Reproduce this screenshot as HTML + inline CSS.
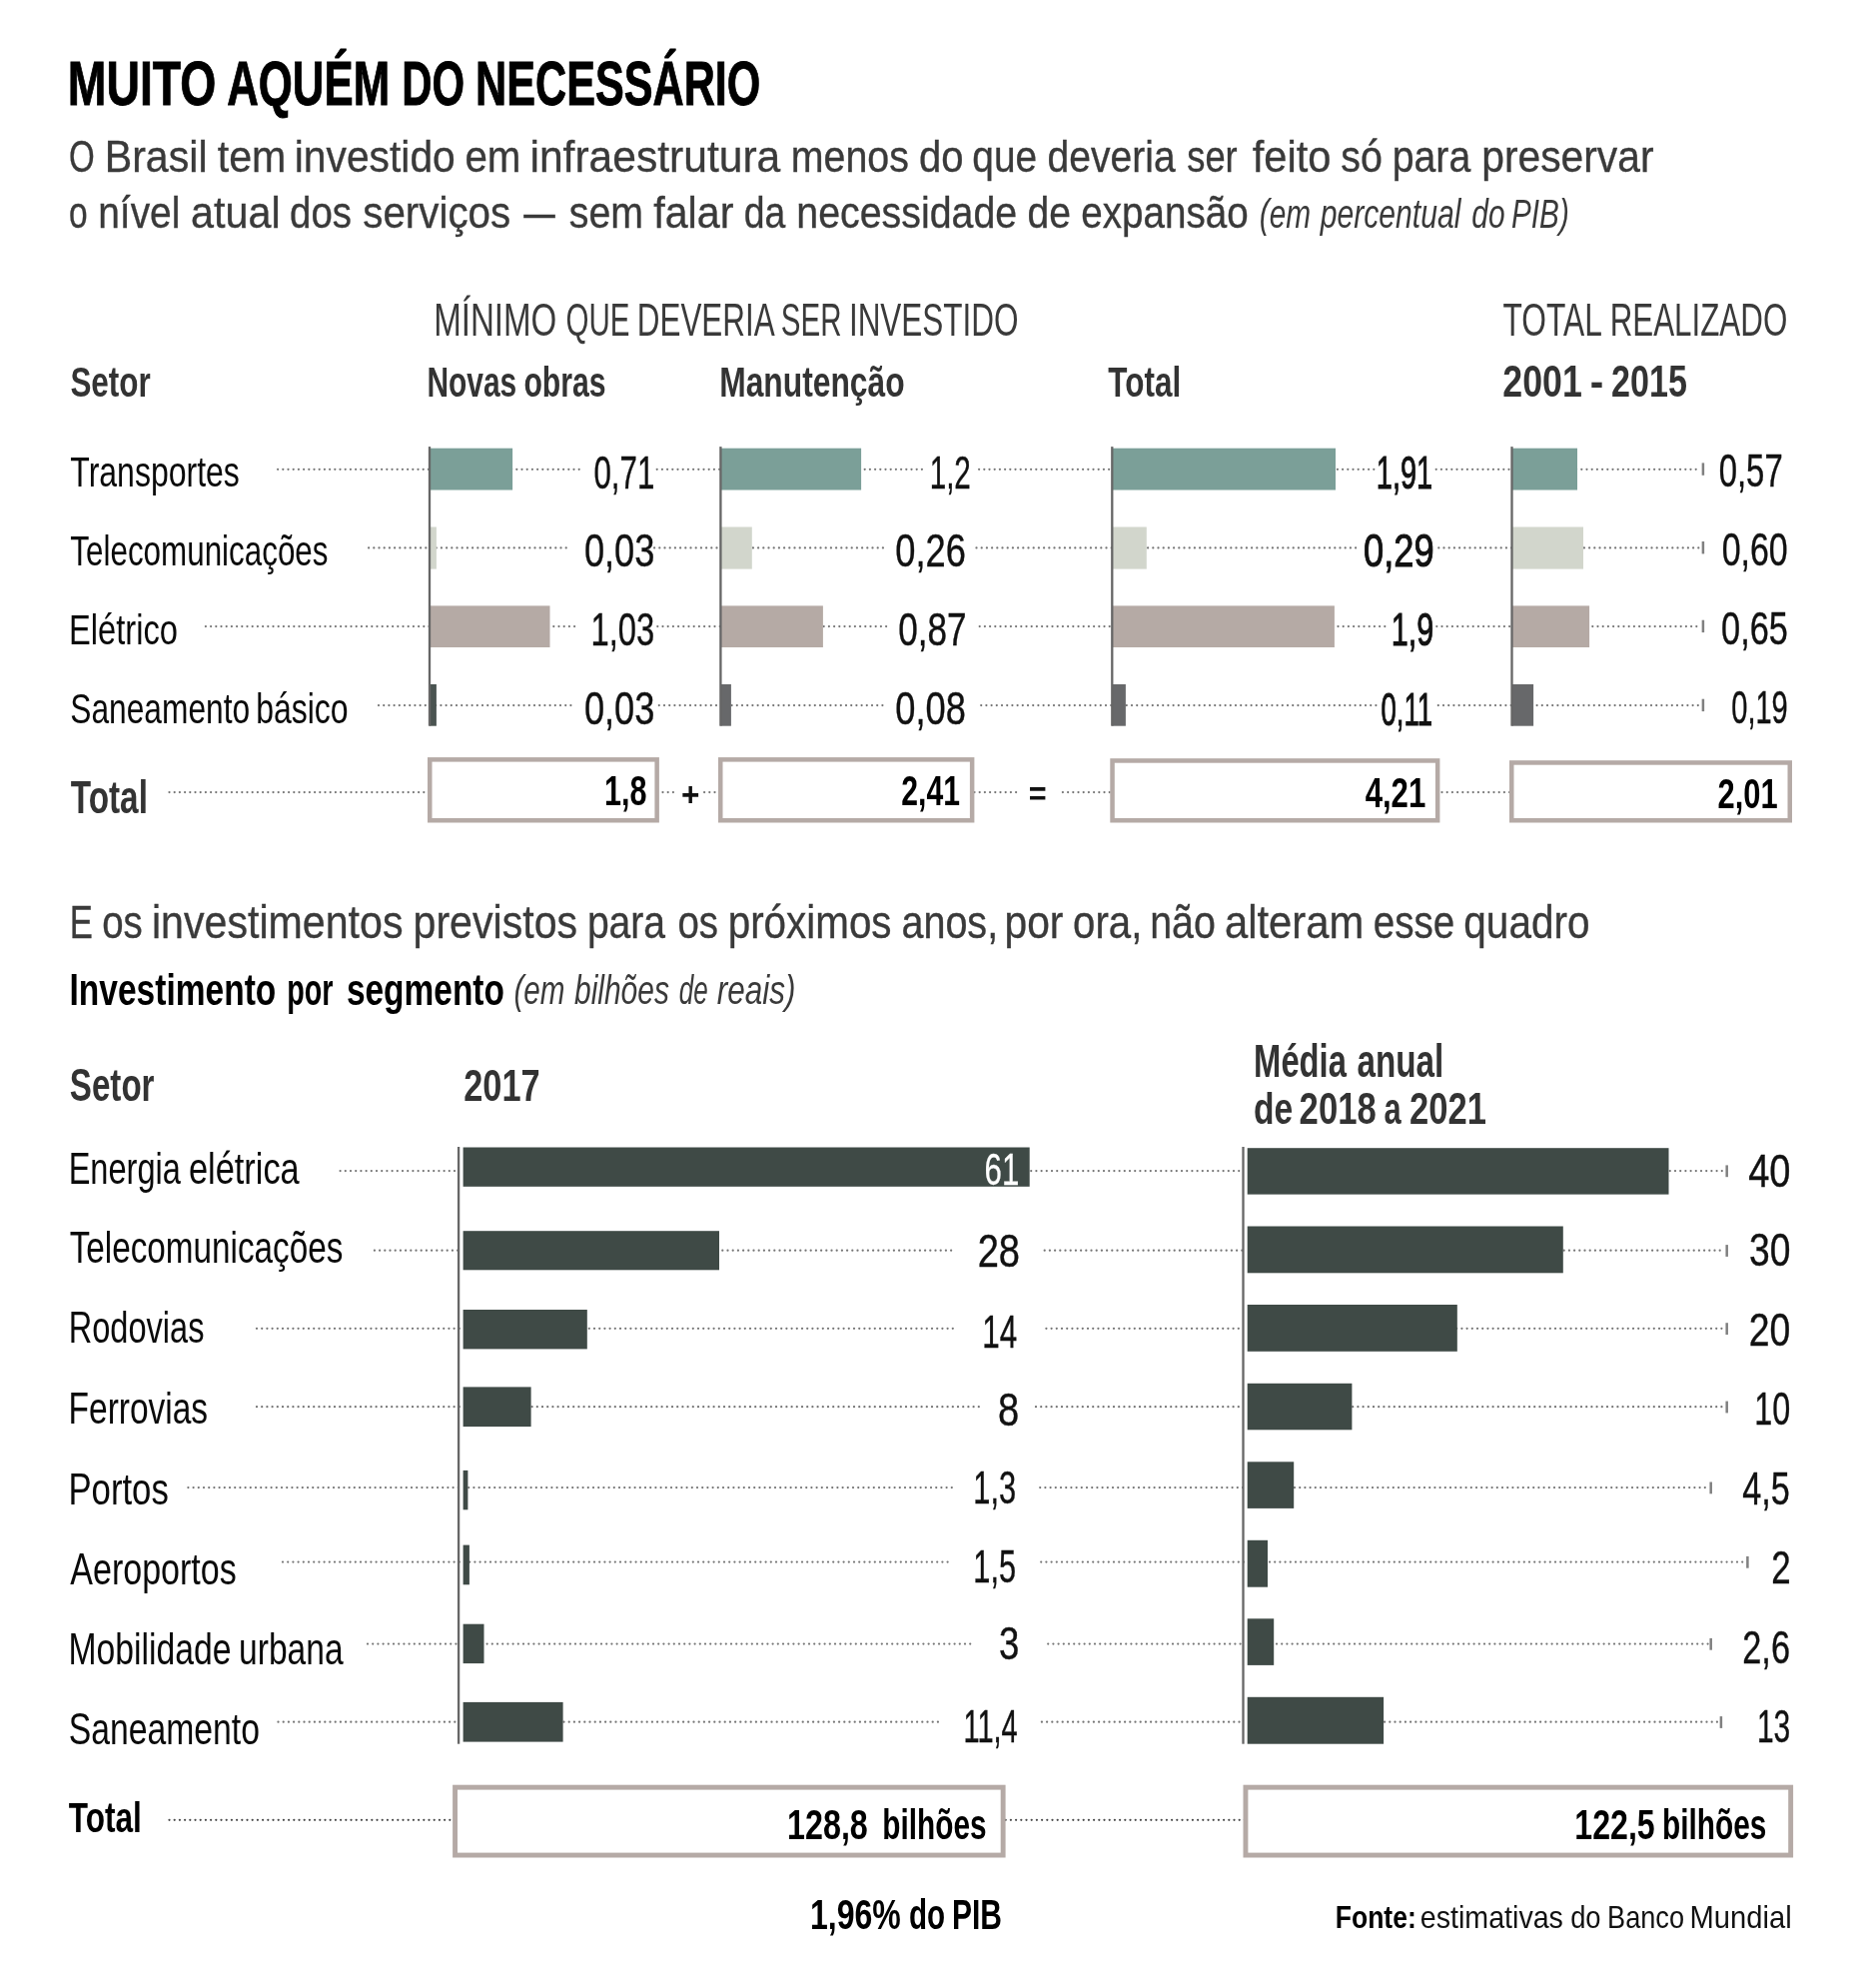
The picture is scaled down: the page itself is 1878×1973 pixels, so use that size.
<!DOCTYPE html>
<html lang="pt-BR"><head><meta charset="utf-8"><title>Muito aquém do necessário</title>
<style>
html,body{margin:0;padding:0;background:#fff}
svg{display:block;will-change:transform;font-family:"Liberation Sans",sans-serif}
.d,.d2{stroke:#757575;stroke-width:2.25;stroke-linecap:round;stroke-dasharray:0.01 5.19;fill:none}
.d2{stroke:#4a4a4a}
</style></head><body>
<svg width="1878" height="1973" viewBox="0 0 1878 1973">
<rect width="1878" height="1973" fill="#fff"/>
<line x1="278.10" y1="469.8" x2="430.50" y2="469.8" class="d"/>
<line x1="512.10" y1="469.8" x2="582.30" y2="469.8" class="d"/>
<line x1="657.70" y1="469.8" x2="721.90" y2="469.8" class="d"/>
<line x1="865.70" y1="469.8" x2="923.00" y2="469.8" class="d"/>
<line x1="980.10" y1="469.8" x2="1113.80" y2="469.8" class="d"/>
<line x1="1338.90" y1="469.8" x2="1376.50" y2="469.8" class="d"/>
<line x1="1437.70" y1="469.8" x2="1514.00" y2="469.8" class="d"/>
<line x1="1578.10" y1="469.8" x2="1702.00" y2="469.8" class="d"/>
<line x1="369.10" y1="548.4" x2="430.50" y2="548.4" class="d"/>
<line x1="436.70" y1="548.4" x2="570.60" y2="548.4" class="d"/>
<line x1="655.10" y1="548.4" x2="721.90" y2="548.4" class="d"/>
<line x1="753.90" y1="548.4" x2="884.80" y2="548.4" class="d"/>
<line x1="977.50" y1="548.4" x2="1113.80" y2="548.4" class="d"/>
<line x1="1149.10" y1="548.4" x2="1359.00" y2="548.4" class="d"/>
<line x1="1440.30" y1="548.4" x2="1514.00" y2="548.4" class="d"/>
<line x1="1585.90" y1="548.4" x2="1702.00" y2="548.4" class="d"/>
<line x1="205.90" y1="627.1" x2="430.50" y2="627.1" class="d"/>
<line x1="554.30" y1="627.1" x2="579.00" y2="627.1" class="d"/>
<line x1="658.30" y1="627.1" x2="721.90" y2="627.1" class="d"/>
<line x1="824.70" y1="627.1" x2="887.20" y2="627.1" class="d"/>
<line x1="980.70" y1="627.1" x2="1113.80" y2="627.1" class="d"/>
<line x1="1339.50" y1="627.1" x2="1388.00" y2="627.1" class="d"/>
<line x1="1438.30" y1="627.1" x2="1514.00" y2="627.1" class="d"/>
<line x1="1594.30" y1="627.1" x2="1702.00" y2="627.1" class="d"/>
<line x1="379.00" y1="706.1" x2="430.50" y2="706.1" class="d"/>
<line x1="436.20" y1="706.1" x2="571.70" y2="706.1" class="d"/>
<line x1="659.80" y1="706.1" x2="721.90" y2="706.1" class="d"/>
<line x1="732.60" y1="706.1" x2="883.70" y2="706.1" class="d"/>
<line x1="982.20" y1="706.1" x2="1113.80" y2="706.1" class="d"/>
<line x1="1127.80" y1="706.1" x2="1377.60" y2="706.1" class="d"/>
<line x1="1439.80" y1="706.1" x2="1514.00" y2="706.1" class="d"/>
<line x1="1538.60" y1="706.1" x2="1702.00" y2="706.1" class="d"/>
<line x1="169.50" y1="793" x2="430.00" y2="793" class="d"/>
<line x1="663.50" y1="793" x2="677.00" y2="793" class="d"/>
<line x1="705.10" y1="793" x2="721.00" y2="793" class="d"/>
<line x1="975.50" y1="793" x2="1018.00" y2="793" class="d"/>
<line x1="1063.90" y1="793" x2="1113.00" y2="793" class="d"/>
<line x1="1443.50" y1="793" x2="1513.00" y2="793" class="d"/>
<line x1="340.60" y1="1172" x2="460.00" y2="1172" class="d"/>
<line x1="1032.20" y1="1172" x2="1245.00" y2="1172" class="d"/>
<line x1="1671.80" y1="1172" x2="1726.20" y2="1172" class="d"/>
<line x1="374.90" y1="1251.7" x2="460.00" y2="1251.7" class="d"/>
<line x1="723.30" y1="1251.7" x2="953.70" y2="1251.7" class="d"/>
<line x1="1045.70" y1="1251.7" x2="1245.00" y2="1251.7" class="d"/>
<line x1="1565.70" y1="1251.7" x2="1726.20" y2="1251.7" class="d"/>
<line x1="257.00" y1="1329.8" x2="460.00" y2="1329.8" class="d"/>
<line x1="589.80" y1="1329.8" x2="958.20" y2="1329.8" class="d"/>
<line x1="1047.40" y1="1329.8" x2="1245.00" y2="1329.8" class="d"/>
<line x1="1458.20" y1="1329.8" x2="1726.20" y2="1329.8" class="d"/>
<line x1="257.00" y1="1408.2" x2="460.00" y2="1408.2" class="d"/>
<line x1="532.60" y1="1408.2" x2="981.20" y2="1408.2" class="d"/>
<line x1="1037.00" y1="1408.2" x2="1245.00" y2="1408.2" class="d"/>
<line x1="1354.20" y1="1408.2" x2="1726.20" y2="1408.2" class="d"/>
<line x1="188.40" y1="1489.1" x2="460.00" y2="1489.1" class="d"/>
<line x1="469.20" y1="1489.1" x2="953.70" y2="1489.1" class="d"/>
<line x1="1041.20" y1="1489.1" x2="1245.00" y2="1489.1" class="d"/>
<line x1="1296.00" y1="1489.1" x2="1710.20" y2="1489.1" class="d"/>
<line x1="283.00" y1="1563.5" x2="460.00" y2="1563.5" class="d"/>
<line x1="470.20" y1="1563.5" x2="953.70" y2="1563.5" class="d"/>
<line x1="1042.20" y1="1563.5" x2="1245.00" y2="1563.5" class="d"/>
<line x1="1271.00" y1="1563.5" x2="1746.90" y2="1563.5" class="d"/>
<line x1="368.00" y1="1645.5" x2="460.00" y2="1645.5" class="d"/>
<line x1="487.60" y1="1645.5" x2="973.70" y2="1645.5" class="d"/>
<line x1="1049.20" y1="1645.5" x2="1245.00" y2="1645.5" class="d"/>
<line x1="1278.00" y1="1645.5" x2="1710.20" y2="1645.5" class="d"/>
<line x1="278.50" y1="1723.7" x2="460.00" y2="1723.7" class="d"/>
<line x1="564.50" y1="1723.7" x2="943.90" y2="1723.7" class="d"/>
<line x1="1042.90" y1="1723.7" x2="1245.00" y2="1723.7" class="d"/>
<line x1="1386.10" y1="1723.7" x2="1720.40" y2="1723.7" class="d"/>
<line x1="169.50" y1="1821.8" x2="455.00" y2="1821.8" class="d2"/>
<line x1="1006.70" y1="1821.8" x2="1247.00" y2="1821.8" class="d2"/>
<text y="105.00" font-size="63" font-weight="700" fill="#000" stroke="#000" stroke-width="0.9"><tspan x="67.81" textLength="148.62" lengthAdjust="spacingAndGlyphs">MUITO</tspan> <tspan x="227.21" textLength="162.92" lengthAdjust="spacingAndGlyphs">AQUÉM</tspan> <tspan x="402.30" textLength="62.86" lengthAdjust="spacingAndGlyphs">DO</tspan> <tspan x="476.11" textLength="285.20" lengthAdjust="spacingAndGlyphs">NECESSÁRIO</tspan></text>
<text y="171.60" font-size="45" font-weight="400" fill="#3a3a3a" stroke="#3a3a3a" stroke-width="0.35"><tspan x="68.93" textLength="25.75" lengthAdjust="spacingAndGlyphs">O</tspan> <tspan x="104.73" textLength="102.82" lengthAdjust="spacingAndGlyphs">Brasil</tspan> <tspan x="217.68" textLength="68.74" lengthAdjust="spacingAndGlyphs">tem</tspan> <tspan x="294.77" textLength="161.04" lengthAdjust="spacingAndGlyphs">investido</tspan> <tspan x="465.39" textLength="55.97" lengthAdjust="spacingAndGlyphs">em</tspan> <tspan x="530.45" textLength="250.85" lengthAdjust="spacingAndGlyphs">infraestrutura</tspan> <tspan x="791.79" textLength="118.03" lengthAdjust="spacingAndGlyphs">menos</tspan> <tspan x="919.92" textLength="44.56" lengthAdjust="spacingAndGlyphs">do</tspan> <tspan x="973.37" textLength="64.75" lengthAdjust="spacingAndGlyphs">que</tspan> <tspan x="1048.56" textLength="128.14" lengthAdjust="spacingAndGlyphs">deveria</tspan> <tspan x="1188.29" textLength="50.41" lengthAdjust="spacingAndGlyphs">ser</tspan> <tspan x="1253.81" textLength="78.74" lengthAdjust="spacingAndGlyphs">feito</tspan> <tspan x="1342.20" textLength="41.65" lengthAdjust="spacingAndGlyphs">só</tspan> <tspan x="1393.77" textLength="78.43" lengthAdjust="spacingAndGlyphs">para</tspan> <tspan x="1483.27" textLength="172.20" lengthAdjust="spacingAndGlyphs">preservar</tspan></text>
<text y="227.80" font-size="45" font-weight="400" fill="#3a3a3a" stroke="#3a3a3a" stroke-width="0.35"><tspan x="69.09" textLength="18.61" lengthAdjust="spacingAndGlyphs">o</tspan> <tspan x="98.22" textLength="82.19" lengthAdjust="spacingAndGlyphs">nível</tspan> <tspan x="191.04" textLength="89.73" lengthAdjust="spacingAndGlyphs">atual</tspan> <tspan x="290.09" textLength="61.90" lengthAdjust="spacingAndGlyphs">dos</tspan> <tspan x="363.28" textLength="147.88" lengthAdjust="spacingAndGlyphs">serviços</tspan> <tspan x="524.30" textLength="31.50" lengthAdjust="spacingAndGlyphs">—</tspan> <tspan x="569.81" textLength="74.29" lengthAdjust="spacingAndGlyphs">sem</tspan> <tspan x="654.22" textLength="80.17" lengthAdjust="spacingAndGlyphs">falar</tspan> <tspan x="744.73" textLength="41.57" lengthAdjust="spacingAndGlyphs">da</tspan> <tspan x="797.29" textLength="220.86" lengthAdjust="spacingAndGlyphs">necessidade</tspan> <tspan x="1028.56" textLength="43.48" lengthAdjust="spacingAndGlyphs">de</tspan> <tspan x="1082.36" textLength="167.36" lengthAdjust="spacingAndGlyphs">expansão</tspan></text>
<text y="228.30" font-size="40" font-weight="400" font-style="italic" fill="#3a3a3a"><tspan x="1260.80" textLength="51.38" lengthAdjust="spacingAndGlyphs">(em</tspan> <tspan x="1321.75" textLength="140.67" lengthAdjust="spacingAndGlyphs">percentual</tspan> <tspan x="1473.29" textLength="33.26" lengthAdjust="spacingAndGlyphs">do</tspan> <tspan x="1513.09" textLength="57.68" lengthAdjust="spacingAndGlyphs">PIB)</tspan></text>
<text y="335.70" font-size="45.5" font-weight="400" fill="#3a3a3a"><tspan x="434.18" textLength="123.20" lengthAdjust="spacingAndGlyphs">MÍNIMO</tspan> <tspan x="566.60" textLength="63.97" lengthAdjust="spacingAndGlyphs">QUE</tspan> <tspan x="637.75" textLength="136.21" lengthAdjust="spacingAndGlyphs">DEVERIA</tspan> <tspan x="781.76" textLength="60.71" lengthAdjust="spacingAndGlyphs">SER</tspan> <tspan x="849.89" textLength="169.71" lengthAdjust="spacingAndGlyphs">INVESTIDO</tspan></text>
<text y="335.70" font-size="45.5" font-weight="400" fill="#3a3a3a"><tspan x="1504.52" textLength="98.20" lengthAdjust="spacingAndGlyphs">TOTAL</tspan> <tspan x="1611.63" textLength="177.67" lengthAdjust="spacingAndGlyphs">REALIZADO</tspan></text>
<text y="396.80" font-size="43" font-weight="700" fill="#333"><tspan x="70.39" textLength="80.38" lengthAdjust="spacingAndGlyphs">Setor</tspan></text>
<text y="397.00" font-size="43" font-weight="700" fill="#333"><tspan x="427.40" textLength="89.83" lengthAdjust="spacingAndGlyphs">Novas</tspan> <tspan x="524.42" textLength="82.22" lengthAdjust="spacingAndGlyphs">obras</tspan></text>
<text y="396.80" font-size="43" font-weight="700" fill="#333"><tspan x="720.17" textLength="185.47" lengthAdjust="spacingAndGlyphs">Manutenção</tspan></text>
<text y="396.80" font-size="43" font-weight="700" fill="#333"><tspan x="1109.36" textLength="72.80" lengthAdjust="spacingAndGlyphs">Total</tspan></text>
<text y="396.60" font-size="43.5" font-weight="700" fill="#333"><tspan x="1504.26" textLength="79.53" lengthAdjust="spacingAndGlyphs">2001</tspan> <tspan x="1591.72" textLength="13.51" lengthAdjust="spacingAndGlyphs">-</tspan> <tspan x="1613.02" textLength="75.93" lengthAdjust="spacingAndGlyphs">2015</tspan></text>
<rect x="430" y="448.7" width="83.1" height="41.8" fill="#7b9f98"/>
<rect x="430" y="527.5" width="6.9" height="42.1" fill="#d2d6cc"/>
<rect x="430" y="606.4" width="120.5" height="41.6" fill="#b5aaa5"/>
<rect x="430" y="685" width="6.9" height="41.7" fill="#4a5451"/>
<rect x="428.85" y="447.1" width="2.3" height="279.6" fill="#666"/>
<rect x="721.4" y="448.7" width="140.7" height="41.8" fill="#7b9f98"/>
<rect x="721.4" y="527.5" width="31.4" height="42.1" fill="#d2d6cc"/>
<rect x="721.4" y="606.4" width="102.5" height="41.6" fill="#b5aaa5"/>
<rect x="721.4" y="685" width="10.5" height="41.7" fill="#67686a"/>
<rect x="720.25" y="447.1" width="2.3" height="279.6" fill="#666"/>
<rect x="1113.3" y="448.7" width="223.7" height="41.8" fill="#7b9f98"/>
<rect x="1113.3" y="527.5" width="34.5" height="42.1" fill="#d2d6cc"/>
<rect x="1113.3" y="606.4" width="222.6" height="41.6" fill="#b5aaa5"/>
<rect x="1113.3" y="685" width="13.6" height="41.7" fill="#67686a"/>
<rect x="1112.15" y="447.1" width="2.3" height="279.6" fill="#666"/>
<rect x="1513.5" y="448.7" width="65.5" height="41.8" fill="#7b9f98"/>
<rect x="1513.5" y="527.5" width="71.5" height="42.1" fill="#d2d6cc"/>
<rect x="1513.5" y="606.4" width="77.6" height="41.6" fill="#b5aaa5"/>
<rect x="1513.5" y="685" width="21.6" height="41.7" fill="#67686a"/>
<rect x="1512.35" y="447.1" width="2.3" height="279.6" fill="#666"/>
<text y="487.20" font-size="43" font-weight="400" fill="#0a0a0a"><tspan x="70.29" textLength="169.56" lengthAdjust="spacingAndGlyphs">Transportes</tspan></text>
<rect x="1703.65" y="463.4" width="2.5" height="12.4" fill="#808080"/>
<text y="488.70" font-size="45.6" font-weight="400" fill="#111" stroke="#111" stroke-width="0.4"><tspan x="594.48" textLength="60.85" lengthAdjust="spacingAndGlyphs">0,71</tspan></text>
<text y="488.70" font-size="45.6" font-weight="400" fill="#111" stroke="#111" stroke-width="0.4"><tspan x="930.64" textLength="41.25" lengthAdjust="spacingAndGlyphs">1,2</tspan></text>
<text y="488.70" font-size="45.6" font-weight="400" fill="#111" stroke="#111" stroke-width="1.0"><tspan x="1377.80" textLength="56.32" lengthAdjust="spacingAndGlyphs">1,91</tspan></text>
<text y="487.00" font-size="45.6" font-weight="400" fill="#111" stroke="#111" stroke-width="0.4"><tspan x="1720.72" textLength="63.94" lengthAdjust="spacingAndGlyphs">0,57</tspan></text>
<text y="566.00" font-size="43" font-weight="400" fill="#0a0a0a"><tspan x="70.30" textLength="258.21" lengthAdjust="spacingAndGlyphs">Telecomunicações</tspan></text>
<rect x="1703.65" y="542" width="2.5" height="12.4" fill="#808080"/>
<text y="567.30" font-size="45.6" font-weight="400" fill="#111" stroke="#111" stroke-width="0.4"><tspan x="584.88" textLength="70.51" lengthAdjust="spacingAndGlyphs">0,03</tspan></text>
<text y="567.30" font-size="45.6" font-weight="400" fill="#111" stroke="#111" stroke-width="0.4"><tspan x="896.28" textLength="70.61" lengthAdjust="spacingAndGlyphs">0,26</tspan></text>
<text y="567.30" font-size="45.6" font-weight="400" fill="#111" stroke="#111" stroke-width="1.0"><tspan x="1364.98" textLength="70.64" lengthAdjust="spacingAndGlyphs">0,29</tspan></text>
<text y="566.10" font-size="45.6" font-weight="400" fill="#111" stroke="#111" stroke-width="0.4"><tspan x="1723.67" textLength="66.05" lengthAdjust="spacingAndGlyphs">0,60</tspan></text>
<text y="645.00" font-size="43" font-weight="400" fill="#0a0a0a"><tspan x="69.02" textLength="108.95" lengthAdjust="spacingAndGlyphs">Elétrico</tspan></text>
<rect x="1703.65" y="620.7" width="2.5" height="12.4" fill="#808080"/>
<text y="646.20" font-size="45.6" font-weight="400" fill="#111" stroke="#111" stroke-width="0.4"><tspan x="591.51" textLength="63.73" lengthAdjust="spacingAndGlyphs">1,03</tspan></text>
<text y="646.20" font-size="45.6" font-weight="400" fill="#111" stroke="#111" stroke-width="0.4"><tspan x="899.23" textLength="68.34" lengthAdjust="spacingAndGlyphs">0,87</tspan></text>
<text y="646.20" font-size="45.6" font-weight="400" fill="#111" stroke="#111" stroke-width="1.0"><tspan x="1392.87" textLength="42.47" lengthAdjust="spacingAndGlyphs">1,9</tspan></text>
<text y="645.00" font-size="45.6" font-weight="400" fill="#111" stroke="#111" stroke-width="0.4"><tspan x="1723.06" textLength="66.78" lengthAdjust="spacingAndGlyphs">0,65</tspan></text>
<text y="723.60" font-size="43" font-weight="400" fill="#0a0a0a"><tspan x="70.26" textLength="179.87" lengthAdjust="spacingAndGlyphs">Saneamento</tspan> <tspan x="256.14" textLength="92.51" lengthAdjust="spacingAndGlyphs">básico</tspan></text>
<rect x="1703.65" y="699.7" width="2.5" height="12.4" fill="#808080"/>
<text y="724.80" font-size="45.6" font-weight="400" fill="#111" stroke="#111" stroke-width="0.4"><tspan x="584.88" textLength="70.51" lengthAdjust="spacingAndGlyphs">0,03</tspan></text>
<text y="724.80" font-size="45.6" font-weight="400" fill="#111" stroke="#111" stroke-width="0.4"><tspan x="896.28" textLength="70.59" lengthAdjust="spacingAndGlyphs">0,08</tspan></text>
<text y="725.50" font-size="45.6" font-weight="400" fill="#111" stroke="#111" stroke-width="1.0"><tspan x="1382.47" textLength="51.53" lengthAdjust="spacingAndGlyphs">0,11</tspan></text>
<text y="724.30" font-size="45.6" font-weight="400" fill="#111" stroke="#111" stroke-width="0.4"><tspan x="1733.27" textLength="56.51" lengthAdjust="spacingAndGlyphs">0,19</tspan></text>
<text y="814.00" font-size="46" font-weight="700" fill="#333"><tspan x="70.84" textLength="77.05" lengthAdjust="spacingAndGlyphs">Total</tspan></text>
<rect x="430.25" y="760.35" width="227.4" height="60.9" fill="#fff" stroke="#b5aaa6" stroke-width="4.5"/>
<rect x="721.25" y="760.35" width="251.9" height="60.9" fill="#fff" stroke="#b5aaa6" stroke-width="4.5"/>
<rect x="1113.55" y="761.45" width="325.6" height="59.8" fill="#fff" stroke="#b5aaa6" stroke-width="4.5"/>
<rect x="1513.25" y="763.45" width="278.5" height="57.8" fill="#fff" stroke="#b5aaa6" stroke-width="4.5"/>
<text y="805.90" font-size="42.5" font-weight="700" fill="#000"><tspan x="604.98" textLength="42.46" lengthAdjust="spacingAndGlyphs">1,8</tspan></text>
<text y="805.90" font-size="42.5" font-weight="700" fill="#000"><tspan x="902.25" textLength="58.68" lengthAdjust="spacingAndGlyphs">2,41</tspan></text>
<text y="808.40" font-size="42.5" font-weight="700" fill="#000"><tspan x="1366.63" textLength="60.64" lengthAdjust="spacingAndGlyphs">4,21</tspan></text>
<text y="809.00" font-size="42.5" font-weight="700" fill="#000"><tspan x="1719.53" textLength="60.13" lengthAdjust="spacingAndGlyphs">2,01</tspan></text>
<text y="806.50" font-size="33" font-weight="700" fill="#111"><tspan x="681.88" textLength="18.40" lengthAdjust="spacingAndGlyphs">+</tspan></text>
<text y="806.30" font-size="33" font-weight="700" fill="#111"><tspan x="1029.63" textLength="17.93" lengthAdjust="spacingAndGlyphs">=</tspan></text>
<text y="939.10" font-size="46.5" font-weight="400" fill="#3a3a3a" stroke="#3a3a3a" stroke-width="0.35"><tspan x="69.65" textLength="23.14" lengthAdjust="spacingAndGlyphs">E</tspan> <tspan x="102.19" textLength="40.60" lengthAdjust="spacingAndGlyphs">os</tspan> <tspan x="151.95" textLength="251.54" lengthAdjust="spacingAndGlyphs">investimentos</tspan> <tspan x="413.55" textLength="164.54" lengthAdjust="spacingAndGlyphs">previstos</tspan> <tspan x="587.88" textLength="78.22" lengthAdjust="spacingAndGlyphs">para</tspan> <tspan x="678.49" textLength="40.60" lengthAdjust="spacingAndGlyphs">os</tspan> <tspan x="728.70" textLength="163.86" lengthAdjust="spacingAndGlyphs">próximos</tspan> <tspan x="902.42" textLength="96.73" lengthAdjust="spacingAndGlyphs">anos,</tspan> <tspan x="1005.47" textLength="58.90" lengthAdjust="spacingAndGlyphs">por</tspan> <tspan x="1074.11" textLength="69.30" lengthAdjust="spacingAndGlyphs">ora,</tspan> <tspan x="1151.19" textLength="65.67" lengthAdjust="spacingAndGlyphs">não</tspan> <tspan x="1225.92" textLength="139.33" lengthAdjust="spacingAndGlyphs">alteram</tspan> <tspan x="1374.66" textLength="81.56" lengthAdjust="spacingAndGlyphs">esse</tspan> <tspan x="1465.30" textLength="126.20" lengthAdjust="spacingAndGlyphs">quadro</tspan></text>
<text y="1006.40" font-size="44.5" font-weight="700" fill="#000"><tspan x="69.56" textLength="206.75" lengthAdjust="spacingAndGlyphs">Investimento</tspan> <tspan x="287.31" textLength="46.23" lengthAdjust="spacingAndGlyphs">por</tspan> <tspan x="346.92" textLength="157.98" lengthAdjust="spacingAndGlyphs">segmento</tspan></text>
<text y="1005.30" font-size="40" font-weight="400" font-style="italic" fill="#3a3a3a"><tspan x="514.41" textLength="51.07" lengthAdjust="spacingAndGlyphs">(em</tspan> <tspan x="574.98" textLength="94.94" lengthAdjust="spacingAndGlyphs">bilhões</tspan> <tspan x="679.72" textLength="28.94" lengthAdjust="spacingAndGlyphs">de</tspan> <tspan x="717.68" textLength="78.70" lengthAdjust="spacingAndGlyphs">reais)</tspan></text>
<text y="1101.60" font-size="45.5" font-weight="700" fill="#333"><tspan x="69.85" textLength="84.66" lengthAdjust="spacingAndGlyphs">Setor</tspan></text>
<text y="1101.60" font-size="45" font-weight="700" fill="#333"><tspan x="464.21" textLength="76.40" lengthAdjust="spacingAndGlyphs">2017</tspan></text>
<text y="1077.80" font-size="45.5" font-weight="700" fill="#333"><tspan x="1255.11" textLength="92.78" lengthAdjust="spacingAndGlyphs">Média</tspan> <tspan x="1358.42" textLength="86.93" lengthAdjust="spacingAndGlyphs">anual</tspan></text>
<text y="1124.90" font-size="45" font-weight="700" fill="#333"><tspan x="1255.02" textLength="39.23" lengthAdjust="spacingAndGlyphs">de</tspan> <tspan x="1300.60" textLength="77.17" lengthAdjust="spacingAndGlyphs">2018</tspan> <tspan x="1385.40" textLength="17.11" lengthAdjust="spacingAndGlyphs">a</tspan> <tspan x="1411.00" textLength="76.86" lengthAdjust="spacingAndGlyphs">2021</tspan></text>
<text y="1184.60" font-size="45" font-weight="400" fill="#0a0a0a"><tspan x="68.63" textLength="112.27" lengthAdjust="spacingAndGlyphs">Energia</tspan> <tspan x="188.94" textLength="110.76" lengthAdjust="spacingAndGlyphs">elétrica</tspan></text>
<rect x="463.6" y="1148.5" width="567.1" height="39.3" fill="#3f4a46"/>
<rect x="1248.7" y="1149.2" width="421.8" height="46.4" fill="#3f4a46"/>
<text y="1185.70" font-size="45" font-weight="400" fill="#fff" stroke="#fff" stroke-width="0.3"><tspan x="985.62" textLength="34.71" lengthAdjust="spacingAndGlyphs">61</tspan></text>
<rect x="1727.45" y="1166.4" width="2.5" height="11.8" fill="#808080"/>
<text y="1188.20" font-size="46" font-weight="400" fill="#111" stroke="#111" stroke-width="0.4"><tspan x="1750.13" textLength="42.26" lengthAdjust="spacingAndGlyphs">40</tspan></text>
<text y="1264.30" font-size="45" font-weight="400" fill="#0a0a0a"><tspan x="69.66" textLength="273.62" lengthAdjust="spacingAndGlyphs">Telecomunicações</tspan></text>
<rect x="463.6" y="1232.2" width="256.4" height="39.1" fill="#3f4a46"/>
<rect x="1248.7" y="1227.5" width="316.1" height="46.8" fill="#3f4a46"/>
<text y="1267.80" font-size="46" font-weight="400" fill="#111" stroke="#111" stroke-width="0.4"><tspan x="978.68" textLength="42.37" lengthAdjust="spacingAndGlyphs">28</tspan></text>
<rect x="1727.45" y="1246.1" width="2.5" height="11.8" fill="#808080"/>
<text y="1266.80" font-size="46" font-weight="400" fill="#111" stroke="#111" stroke-width="0.4"><tspan x="1750.98" textLength="41.37" lengthAdjust="spacingAndGlyphs">30</tspan></text>
<text y="1344.30" font-size="45" font-weight="400" fill="#0a0a0a"><tspan x="68.63" textLength="135.85" lengthAdjust="spacingAndGlyphs">Rodovias</tspan></text>
<rect x="463.6" y="1311" width="124.2" height="39.4" fill="#3f4a46"/>
<rect x="1248.7" y="1306" width="210.1" height="46.8" fill="#3f4a46"/>
<text y="1349.30" font-size="46" font-weight="400" fill="#111" stroke="#111" stroke-width="0.4"><tspan x="983.31" textLength="34.91" lengthAdjust="spacingAndGlyphs">14</tspan></text>
<rect x="1727.45" y="1324.2" width="2.5" height="11.8" fill="#808080"/>
<text y="1346.70" font-size="46" font-weight="400" fill="#111" stroke="#111" stroke-width="0.4"><tspan x="1750.82" textLength="41.54" lengthAdjust="spacingAndGlyphs">20</tspan></text>
<text y="1425.20" font-size="45" font-weight="400" fill="#0a0a0a"><tspan x="68.55" textLength="139.56" lengthAdjust="spacingAndGlyphs">Ferrovias</tspan></text>
<rect x="463.6" y="1388.4" width="68" height="39.7" fill="#3f4a46"/>
<rect x="1248.7" y="1384.8" width="104.7" height="46.5" fill="#3f4a46"/>
<text y="1426.60" font-size="46" font-weight="400" fill="#111" stroke="#111" stroke-width="0.4"><tspan x="998.94" textLength="21.22" lengthAdjust="spacingAndGlyphs">8</tspan></text>
<rect x="1727.45" y="1402.6" width="2.5" height="11.8" fill="#808080"/>
<text y="1426.00" font-size="46" font-weight="400" fill="#111" stroke="#111" stroke-width="0.4"><tspan x="1756.24" textLength="35.92" lengthAdjust="spacingAndGlyphs">10</tspan></text>
<text y="1505.80" font-size="45" font-weight="400" fill="#0a0a0a"><tspan x="68.45" textLength="100.30" lengthAdjust="spacingAndGlyphs">Portos</tspan></text>
<rect x="463.6" y="1471.9" width="4.8" height="39.4" fill="#3f4a46"/>
<rect x="1248.7" y="1463.3" width="46.5" height="46.6" fill="#3f4a46"/>
<text y="1505.10" font-size="46" font-weight="400" fill="#111" stroke="#111" stroke-width="0.4"><tspan x="974.35" textLength="42.80" lengthAdjust="spacingAndGlyphs">1,3</tspan></text>
<rect x="1711.45" y="1483.5" width="2.5" height="11.8" fill="#808080"/>
<text y="1505.60" font-size="46" font-weight="400" fill="#111" stroke="#111" stroke-width="0.4"><tspan x="1744.31" textLength="47.62" lengthAdjust="spacingAndGlyphs">4,5</tspan></text>
<text y="1585.80" font-size="45" font-weight="400" fill="#0a0a0a"><tspan x="70.33" textLength="166.40" lengthAdjust="spacingAndGlyphs">Aeroportos</tspan></text>
<rect x="463.6" y="1546.6" width="6.3" height="39.7" fill="#3f4a46"/>
<rect x="1248.7" y="1541.8" width="20.3" height="46.9" fill="#3f4a46"/>
<text y="1583.60" font-size="46" font-weight="400" fill="#111" stroke="#111" stroke-width="0.4"><tspan x="974.36" textLength="42.73" lengthAdjust="spacingAndGlyphs">1,5</tspan></text>
<rect x="1748.15" y="1557.9" width="2.5" height="11.8" fill="#808080"/>
<text y="1584.80" font-size="46" font-weight="400" fill="#111" stroke="#111" stroke-width="0.4"><tspan x="1773.24" textLength="19.41" lengthAdjust="spacingAndGlyphs">2</tspan></text>
<text y="1665.50" font-size="45" font-weight="400" fill="#0a0a0a"><tspan x="68.53" textLength="163.06" lengthAdjust="spacingAndGlyphs">Mobilidade</tspan> <tspan x="239.02" textLength="104.58" lengthAdjust="spacingAndGlyphs">urbana</tspan></text>
<rect x="463.6" y="1625.7" width="20.9" height="39.4" fill="#3f4a46"/>
<rect x="1248.7" y="1620.3" width="26.5" height="46.6" fill="#3f4a46"/>
<text y="1661.20" font-size="46" font-weight="400" fill="#111" stroke="#111" stroke-width="0.4"><tspan x="1000.11" textLength="20.29" lengthAdjust="spacingAndGlyphs">3</tspan></text>
<rect x="1711.45" y="1639.9" width="2.5" height="11.8" fill="#808080"/>
<text y="1665.00" font-size="46" font-weight="400" fill="#111" stroke="#111" stroke-width="0.4"><tspan x="1744.27" textLength="47.74" lengthAdjust="spacingAndGlyphs">2,6</tspan></text>
<text y="1746.10" font-size="45" font-weight="400" fill="#0a0a0a"><tspan x="68.87" textLength="191.04" lengthAdjust="spacingAndGlyphs">Saneamento</tspan></text>
<rect x="463.6" y="1703.9" width="100" height="39.7" fill="#3f4a46"/>
<rect x="1248.7" y="1698.8" width="136.4" height="46.9" fill="#3f4a46"/>
<text y="1743.50" font-size="46" font-weight="400" fill="#111" stroke="#111" stroke-width="0.4"><tspan x="964.48" textLength="54.24" lengthAdjust="spacingAndGlyphs">11,4</tspan></text>
<rect x="1721.65" y="1718.1" width="2.5" height="11.8" fill="#808080"/>
<text y="1743.80" font-size="46" font-weight="400" fill="#111" stroke="#111" stroke-width="0.4"><tspan x="1758.92" textLength="33.30" lengthAdjust="spacingAndGlyphs">13</tspan></text>
<rect x="457.95" y="1148" width="2.3" height="597.7" fill="#666"/>
<rect x="1243.35" y="1148" width="2.3" height="597.7" fill="#666"/>
<text y="1833.50" font-size="42.7" font-weight="700" fill="#000"><tspan x="68.76" textLength="73.01" lengthAdjust="spacingAndGlyphs">Total</tspan></text>
<rect x="455.55" y="1789.15" width="548.6" height="67.9" fill="#fff" stroke="#b5aaa6" stroke-width="4.9"/>
<rect x="1246.95" y="1789.15" width="545.7" height="67.9" fill="#fff" stroke="#b5aaa6" stroke-width="4.9"/>
<text y="1840.80" font-size="43" font-weight="700" fill="#000"><tspan x="788.07" textLength="80.72" lengthAdjust="spacingAndGlyphs">128,8</tspan> <tspan x="883.34" textLength="104.18" lengthAdjust="spacingAndGlyphs">bilhões</tspan></text>
<text y="1840.90" font-size="43" font-weight="700" fill="#000"><tspan x="1576.28" textLength="80.42" lengthAdjust="spacingAndGlyphs">122,5</tspan> <tspan x="1664.03" textLength="104.39" lengthAdjust="spacingAndGlyphs">bilhões</tspan></text>
<text y="1930.70" font-size="43" font-weight="700" fill="#000"><tspan x="810.98" textLength="90.86" lengthAdjust="spacingAndGlyphs">1,96%</tspan> <tspan x="909.89" textLength="36.17" lengthAdjust="spacingAndGlyphs">do</tspan> <tspan x="952.99" textLength="50.07" lengthAdjust="spacingAndGlyphs">PIB</tspan></text>
<text y="1929.60" font-size="32" font-weight="700" fill="#000"><tspan x="1336.73" textLength="81.03" lengthAdjust="spacingAndGlyphs">Fonte:</tspan></text>
<text y="1929.60" font-size="31.5" font-weight="400" fill="#111"><tspan x="1421.78" textLength="143.15" lengthAdjust="spacingAndGlyphs">estimativas</tspan> <tspan x="1572.15" textLength="30.39" lengthAdjust="spacingAndGlyphs">do</tspan> <tspan x="1609.07" textLength="76.97" lengthAdjust="spacingAndGlyphs">Banco</tspan> <tspan x="1691.51" textLength="102.14" lengthAdjust="spacingAndGlyphs">Mundial</tspan></text>
</svg>
</body></html>
